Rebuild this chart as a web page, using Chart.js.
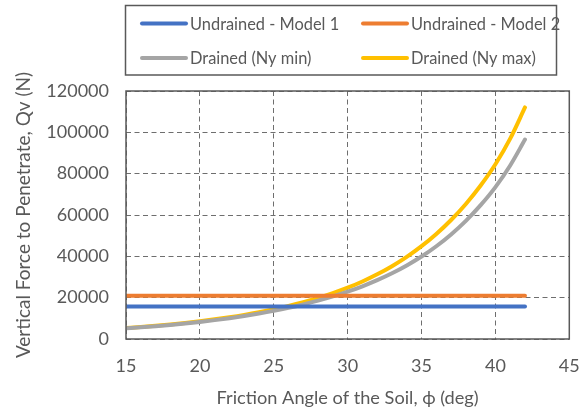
<!DOCTYPE html>
<html>
<head>
<meta charset="utf-8">
<script src="https://cdn.jsdelivr.net/npm/chart.js@4/dist/chart.umd.min.js"></script>
<style>
  html, body { margin: 0; padding: 0; background: #ffffff; }
  #wrap { position: relative; width: 587px; height: 410px; }
</style>
</head>
<body>
<div id="wrap"><canvas id="c" width="587" height="410"></canvas></div>
<script>
// Friction angle of the soil (deg)
const angles = [15, 16, 17, 18, 19, 20, 21, 22, 23, 24, 25, 26, 27, 28,
                29, 30, 31, 32, 33, 34, 35, 36, 37, 38, 39, 40, 41, 42];

// Vertical force to penetrate, Qv (N)
const undrainedModel1 = [15700, 15700, 15700, 15700, 15700, 15700, 15700, 15700, 15700, 15700,
                         15700, 15700, 15700, 15700, 15700, 15700, 15700, 15700, 15700, 15700,
                         15700, 15700, 15700, 15700, 15700, 15700, 15700, 15700];
const undrainedModel2 = [20900, 20900, 20900, 20900, 20900, 20900, 20900, 20900, 20900, 20900,
                         20900, 20900, 20900, 20900, 20900, 20900, 20900, 20900, 20900, 20900,
                         20900, 20900, 20900, 20900, 20900, 20900, 20900, 20900];
const drainedNyMin = [5150, 5650, 6210, 6830, 7520, 8280, 9130, 10080, 11130, 12310,
                      13620, 15080, 16720, 18550, 20610, 22910, 25510, 28460, 31800, 35590,
                      39900, 44890, 50610, 57190, 64770, 73510, 83980, 96500];
const drainedNyMax = [5300, 5830, 6410, 7060, 7790, 8600, 9510, 10530, 11670, 12950,
                      14390, 16010, 17830, 19880, 22200, 24810, 27840, 31290, 35230, 39740,
                      44910, 50820, 57590, 65350, 74270, 84540, 96940, 112040];

const seriesNames = ['Undrained - Model 1', 'Undrained - Model 2', 'Drained (Ny min)', 'Drained (Ny max)'];

// Axis ticks
const xTicks = [15, 20, 25, 30, 35, 40, 45];
const yTicks = [0, 20000, 40000, 60000, 80000, 100000, 120000];

const xTitle = 'Friction Angle of the Soil, \u03D5 (deg)';
const yTitle = 'Vertical Force to Penetrate, Qv (N)';

const FONT = 'Lato, "Liberation Sans", sans-serif';
const TEXT = '#595959';
const GRID = '#6e6e6e';

function toPoints(ys) { return angles.map((x, i) => ({ x: x, y: ys[i] })); }

const palette = ['#4472C4', '#ED7D31', '#A5A5A5', '#FFC000'];
const seriesValues = [undrainedModel1, undrainedModel2, drainedNyMin, drainedNyMax];

const datasets = seriesValues.map((vals, i) => ({
  label: seriesNames[i],
  data: toPoints(vals),
  borderColor: palette[i],
  backgroundColor: palette[i],
  borderWidth: 4,
  borderCapStyle: 'round',
  pointRadius: 0,
  pointHoverRadius: 0,
  cubicInterpolationMode: 'monotone',
  fill: false
}));

// Boxed two-column legend drawn above the plot
const boxedLegend = {
  id: 'boxedLegend',
  afterDraw(chart, args, opts) {
    const ctx = chart.ctx;
    ctx.save();
    ctx.strokeStyle = opts.borderColor;
    ctx.lineWidth = 1.5;
    ctx.strokeRect(opts.left, opts.top, opts.width, opts.height);
    ctx.font = opts.font;
    ctx.fillStyle = TEXT;
    ctx.textBaseline = 'middle';
    chart.data.datasets.forEach((ds, i) => {
      const col = i % 2, row = Math.floor(i / 2);
      const x = opts.colX[col];
      const y = opts.rowY[row];
      ctx.strokeStyle = ds.borderColor;
      ctx.lineWidth = 4;
      ctx.lineCap = 'round';
      ctx.beginPath();
      ctx.moveTo(x, y);
      ctx.lineTo(x + opts.sample, y);
      ctx.stroke();
      ctx.fillText(ds.label, x + opts.sample + 4, y + 1);
    });
    ctx.restore();
  }
};

// Solid frame around the plotting area
const plotFrame = {
  id: 'plotFrame',
  afterDatasetsDraw(chart) {
    const a = chart.chartArea, ctx = chart.ctx;
    ctx.save();
    ctx.strokeStyle = '#595959';
    ctx.lineWidth = 1.5;
    ctx.strokeRect(a.left, a.top, a.right - a.left, a.bottom - a.top);
    ctx.restore();
  }
};

new Chart(document.getElementById('c'), {
  type: 'line',
  data: { datasets: datasets },
  plugins: [boxedLegend, plotFrame],
  options: {
    responsive: false,
    animation: false,
    events: [],
    layout: { padding: { top: 91, right: 17.7, left: 0, bottom: 0 } },
    plugins: {
      legend: { display: false },
      tooltip: { enabled: false },
      boxedLegend: {
        left: 125.5, top: 5.5, width: 431, height: 69.5,
        borderColor: '#595959',
        colX: [142, 363], rowY: [23.5, 58], sample: 44,
        font: '16.4px ' + FONT
      }
    },
    scales: {
      x: {
        type: 'linear',
        min: 15, max: 45,
        afterBuildTicks: s => { s.ticks = xTicks.map(v => ({ value: v })); },
        afterFit: s => { s.height = 71; s.paddingLeft = 0; s.paddingRight = 0; },
        ticks: { color: TEXT, font: { family: FONT, size: 18 }, padding: 16, maxRotation: 0,
                 callback: v => String(v) },
        grid: { color: GRID, lineWidth: 1, drawTicks: false, tickLength: 0 },
        border: { display: false, dash: [5, 3.5] },
        title: { display: true, text: xTitle, color: TEXT, font: { family: FONT, size: 18.2 },
                 padding: { top: 0, bottom: 1 } }
      },
      y: {
        type: 'linear',
        min: 0, max: 120000,
        afterBuildTicks: s => { s.ticks = yTicks.map(v => ({ value: v })); },
        afterFit: s => { s.width = 126; s.paddingTop = 0; s.paddingBottom = 0; },
        ticks: { color: TEXT, font: { family: FONT, size: 18 }, padding: 17,
                 callback: v => String(v) },
        grid: { color: GRID, lineWidth: 1, drawTicks: false, tickLength: 0 },
        border: { display: false, dash: [5, 3.5] },
        title: { display: true, text: yTitle, color: TEXT, font: { family: FONT, size: 19 },
                 padding: { top: 12, bottom: 0 } }
      }
    }
  }
});
</script>
</body>
</html>
